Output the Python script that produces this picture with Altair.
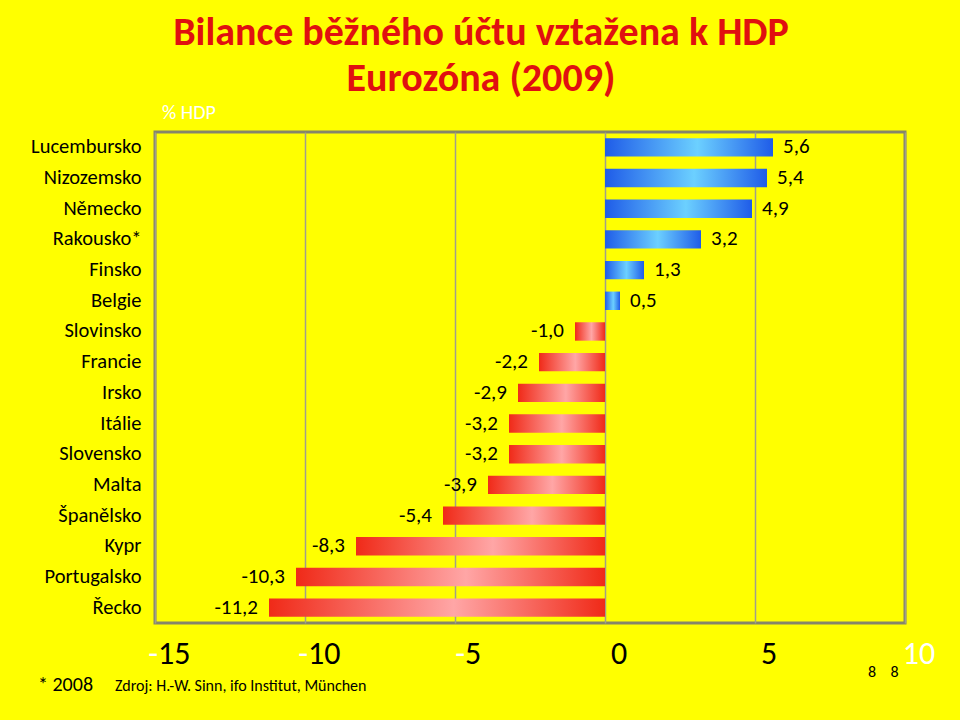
import altair as alt
import pandas as pd

countries = ["Lucembursko", "Nizozemsko", "Německo", "Rakousko*", "Finsko", "Belgie",
             "Slovinsko", "Francie", "Irsko", "Itálie", "Slovensko", "Malta",
             "Španělsko", "Kypr", "Portugalsko", "Řecko"]
values = [5.6, 5.4, 4.9, 3.2, 1.3, 0.5, -1.0, -2.2, -2.9, -3.2, -3.2, -3.9,
          -5.4, -8.3, -10.3, -11.2]
tick_values = [-15, -10, -5, 0, 5, 10]
title_lines = ["Bilance běžného účtu vztažena k HDP", "Eurozóna (2009)"]
unit_text = "% HDP"
note_text = "* 2008"
source_text = "Zdroj: H.-W. Sinn, ifo Institut, München"
page_text = "8\u00a0\u00a0\u00a0\u00a08"

FONT = "Carlito, Lato, sans-serif"
W, H = 750, 491

df = pd.DataFrame({"country": countries, "value": values})
df["label"] = [f"{v:.1f}".replace(".", ",") for v in values]
ticks = pd.DataFrame({"t": tick_values})
ticks["full"] = [str(t) for t in tick_values]
ticks["digits"] = [str(abs(t)) for t in tick_values]

xscale = alt.Scale(domain=[-15, 10], nice=False, zero=False)
yscale = alt.Scale(paddingInner=0.4, paddingOuter=0.2)
xaxis = alt.Axis(values=tick_values, grid=True, gridColor="#A09F8A",
                 gridWidth=1.5, labels=False, ticks=False, domain=False, title=None)
yaxis = alt.Axis(title=None, ticks=False, domain=False, labelFontSize=20.5,
                 labelFontWeight="normal", labelColor="black", labelFont=FONT,
                 labelPadding=14)

X = alt.X("value:Q", scale=xscale, axis=xaxis)
Y = alt.Y("country:N", sort=countries, scale=yscale, axis=yaxis)

blue = alt.Gradient(gradient="linear", x1=0, x2=1, y1=0, y2=0,
                    stops=[alt.GradientStop(offset=0, color="#1F5CE8"),
                           alt.GradientStop(offset=0.55, color="#6CD0FF"),
                           alt.GradientStop(offset=1, color="#1F5CE8")])
red = alt.Gradient(gradient="linear", x1=0, x2=1, y1=0, y2=0,
                   stops=[alt.GradientStop(offset=0, color="#F02A18"),
                          alt.GradientStop(offset=0.55, color="#FFA6A6"),
                          alt.GradientStop(offset=1, color="#F02A18")])

base = alt.Chart(df)
pos_bars = base.transform_filter("datum.value >= 0").mark_bar(color=blue).encode(
    x=X, x2=alt.datum(0), y=Y)
neg_bars = base.transform_filter("datum.value < 0").mark_bar(color=red).encode(
    x=X, x2=alt.datum(0), y=Y)
pos_lab = base.transform_filter("datum.value >= 0").mark_text(
    align="left", baseline="middle", dx=10, fontSize=21, font=FONT, color="black").encode(
    x=X, y=Y, text="label:N")
neg_lab = base.transform_filter("datum.value < 0").mark_text(
    align="right", baseline="middle", dx=-11, fontSize=21, font=FONT, color="black").encode(
    x=X, y=Y, text="label:N")

TX = alt.X("t:Q", scale=xscale, axis=xaxis)
TY = alt.value(H + 31)
TFS = 32
tick_base = alt.Chart(ticks)
minus2 = tick_base.transform_filter("datum.t <= -10").mark_text(
    align="right", baseline="middle", dx=3, fontSize=TFS, font=FONT, color="white").encode(
    x=TX, y=TY, text=alt.value("-"))
digits2 = tick_base.transform_filter("datum.t <= -10").mark_text(
    align="left", baseline="middle", dx=3, fontSize=TFS, font=FONT, color="black").encode(
    x=TX, y=TY, text="digits:N")
minus1 = tick_base.transform_filter("datum.t > -10 && datum.t < 0").mark_text(
    align="right", baseline="middle", dx=10, fontSize=TFS, font=FONT, color="white").encode(
    x=TX, y=TY, text=alt.value("-"))
digits1 = tick_base.transform_filter("datum.t > -10 && datum.t < 0").mark_text(
    align="left", baseline="middle", dx=10, fontSize=TFS, font=FONT, color="black").encode(
    x=TX, y=TY, text="digits:N")
tick_pos = tick_base.transform_filter("datum.t >= 0").mark_text(
    align="center", baseline="middle", dx=14, fontSize=TFS, font=FONT).encode(
    x=TX, y=TY, text="full:N",
    color=alt.condition("datum.t == 10", alt.value("white"), alt.value("black")))

tdf = pd.DataFrame({"line": title_lines, "i": [0, 1]})
title1 = alt.Chart(tdf).transform_filter("datum.i == 0").mark_text(
    align="center", baseline="alphabetic", fontSize=40, fontWeight="bold",
    font=FONT, color="#E01010").encode(
    x=alt.value(326), y=alt.value(-87), text="line:N")
title2 = alt.Chart(tdf).transform_filter("datum.i == 1").mark_text(
    align="center", baseline="alphabetic", fontSize=40, fontWeight="bold",
    font=FONT, color="#E01010").encode(
    x=alt.value(326), y=alt.value(-41), text="line:N")

misc = pd.DataFrame({"s": [unit_text, note_text, source_text, page_text]})
unit = alt.Chart(misc).transform_filter(alt.datum.s == unit_text).mark_text(
    align="left", baseline="alphabetic", fontSize=20, font=FONT, color="white").encode(
    x=alt.value(7), y=alt.value(-13), text="s:N")
note = alt.Chart(misc).transform_filter(alt.datum.s == note_text).mark_text(
    align="left", baseline="alphabetic", fontSize=20, font=FONT, color="black").encode(
    x=alt.value(-117), y=alt.value(H + 68), text="s:N")
source = alt.Chart(misc).transform_filter(alt.datum.s == source_text).mark_text(
    align="left", baseline="alphabetic", fontSize=16, font=FONT, color="black").encode(
    x=alt.value(-40), y=alt.value(H + 68), text="s:N")
page = alt.Chart(misc).transform_filter(alt.datum.s == page_text).mark_text(
    align="left", baseline="alphabetic", fontSize=16, font=FONT, color="black").encode(
    x=alt.value(713), y=alt.value(H + 54), text="s:N")

chart = alt.layer(pos_bars, neg_bars, pos_lab, neg_lab, minus2, digits2, minus1,
                  digits1, tick_pos, title1, title2, unit, note, source, page).properties(
    width=W, height=H,
    autosize=alt.AutoSizeParams(type="none"),
    padding={"left": 155, "top": 132, "right": 55, "bottom": 97},
    background="#FFFF00",
).configure_view(stroke="#85856A", strokeWidth=3)

chart.save("out.html", embed_options={"renderer": "svg", "actions": False})
